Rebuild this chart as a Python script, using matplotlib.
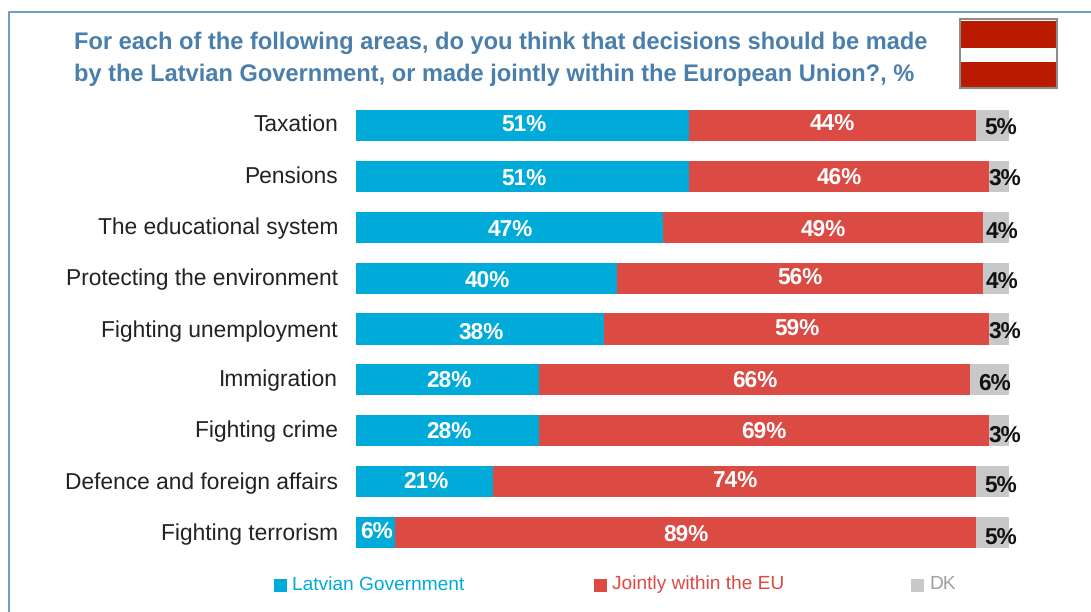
import matplotlib
matplotlib.use("Agg")
import matplotlib.pyplot as plt
from matplotlib.patches import Rectangle

categories = ["Taxation", "Pensions", "The educational system", "Protecting the environment",
              "Fighting unemployment", "Immigration", "Fighting crime",
              "Defence and foreign affairs", "Fighting terrorism"]
government = [51, 51, 47, 40, 38, 28, 28, 21, 6]
jointly = [44, 46, 49, 56, 59, 66, 69, 74, 89]
dk = [5, 3, 4, 4, 3, 6, 3, 5, 5]
series_names = ["Latvian Government", "Jointly within the EU", "DK"]
title_lines = ["For each of the following areas, do you think that decisions should be made",
               "by the Latvian Government, or made jointly within the European Union?, %"]

BLUE, RED, GREY = "#00ABD9", "#DC4A44", "#C8C8C8"
W, H = 1091, 612
plt.rcParams["font.family"] = ["Liberation Sans", "DejaVu Sans"]
plt.rcParams["text.hinting"] = "no_hinting"
plt.rcParams["text.hinting_factor"] = 8

fig = plt.figure(figsize=(W / 100, H / 100), dpi=100, facecolor="white")

# Canvas-wide overlay in pixel coordinates for frame, flag and legend
bg = fig.add_axes([0, 0, 1, 1])
bg.set_xlim(0, W)
bg.set_ylim(H, 0)
bg.axis("off")
bg.plot([9, 9, 1091], [612, 12, 12], color="#6F9BC4", lw=1.4, clip_on=False)

# Flag
bg.add_patch(Rectangle((961, 21), 97, 27, fc="#BA1B00", ec="none"))
bg.add_patch(Rectangle((961, 61.5), 97, 26.5, fc="#BA1B00", ec="none"))
bg.add_patch(Rectangle((959.5, 19), 97, 69, fc="none", ec="#8C8C8C", lw=1.5))

for i, line in enumerate(title_lines):
    bg.text(74, 43 + i * 32, line, color="#4A7EAB", fontsize=17, fontweight="bold",
            ha="left", va="center")

# Stacked bars: 100% spans x pixels 356..1009
ax = fig.add_axes([356 / W, 1 - 548 / H, (1009 - 356) / W, (548 - 110) / H])
ax.set_xlim(0, 100)
ax.set_ylim(8.3, -0.3)
ax.axis("off")
ypos = list(range(len(categories)))
bar_h = 0.61
ax.barh(ypos, government, height=bar_h, color=BLUE)
ax.barh(ypos, jointly, left=government, height=bar_h, color=RED)
left3 = [a + b for a, b in zip(government, jointly)]
ax.barh(ypos, dk, left=left3, height=bar_h, color=GREY)

# Label nudges in pixels, one per row
gov_dy = [0, 3, 3, 3, 4, 1, 1, 0, -1]
joint_dy = [-1, 2, 3, 0, 0, 1, 1, -1, 2]
dk_dx = [8, 6, 6, 6, 6, 5, 6, 8, 8]
dk_dy = [3, 3, 5, 4, 3, 4, 5, 4, 5]
name_dy = [0, 1, 1, 1, 2, 0, 0, 1, 2]

def put(x, y, s, dx=0, dy=0, **kw):
    # Offset a label from its data position by a pixel amount
    ax.annotate(s, (x, y), xytext=(dx * 0.72, -dy * 0.72), textcoords="offset points",
                va="center", annotation_clip=False, **kw)

for i, (y, name, g, j, d, l3) in enumerate(zip(ypos, categories, government, jointly, dk, left3)):
    put(-2.76, y, name, dy=name_dy[i], ha="right", fontsize=16.35, color="#222222")
    put(g / 2, y, f"{g}%", dx=1, dy=gov_dy[i], ha="center", fontsize=16.3, fontweight="bold", color="white")
    put(g + j / 2, y, f"{j}%", dy=joint_dy[i], ha="center", fontsize=16.3, fontweight="bold", color="white")
    put(l3 + d / 2, y, f"{d}%", dx=dk_dx[i], dy=dk_dy[i], ha="center", fontsize=16.3,
        fontweight="bold", color="#111111")

# Legend
for x, name, col in zip([274, 594, 911], series_names, [BLUE, RED, GREY]):
    bg.add_patch(Rectangle((x, 579), 13, 13, fc=col, ec="none"))
    bg.text(x + 18, 584.5, name, color=col if col != GREY else "#A0A0A0", fontsize=13.76,
            ha="left", va="center")

fig.savefig("out.png", dpi=100)
